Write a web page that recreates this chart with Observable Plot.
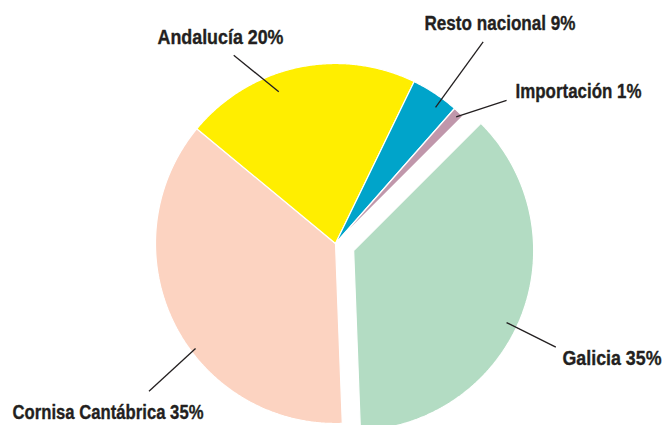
<!DOCTYPE html>
<html><head><meta charset="utf-8">
<script src="https://cdn.jsdelivr.net/npm/d3@7"></script>
<script src="https://cdn.jsdelivr.net/npm/@observablehq/plot@0.6"></script>
<style>body{margin:0;background:#fff}</style>
</head><body><div id="chart"></div>
<script>
// Data
const categories = ["Galicia", "Cornisa Cantábrica", "Andalucía", "Resto nacional", "Importación"];
const values = [36.9, 36.6, 21.2, 4.3, 1.0];
const labels = ["Galicia 35%", "Cornisa Cantábrica 35%", "Andalucía 20%", "Resto nacional 9%", "Importación 1%"];

// Styling / layout
const colors = ["#b3dcc3", "#fcd3c1", "#ffee00", "#00a4ca", "#c097ab"];
const explode = [19.5, 0, 0, 0, 0];
const leaders = [[115.2, 169, 115.5, 224], [233.1, 175, 231.6, 238], [339.5, 162, 331.6, 214], [36.3, 169, 36.2, 250], [43.6, 175, 50.1, 223]];
const labelOffsets = [[227, 121], [-323, 175], [-178, -200], [89, -214], [180, -146]];
const labelWidths = [99, 191, 126, 151, 126];

const R = 180;
const deg = Math.PI / 180;
const arcs = d3.pie().sort(null).startAngle(45 * deg).endAngle(45 * deg + 2 * Math.PI)(values);
const pt = (a, r, c) => ({x: c.x + r * Math.sin(a), y: c.y - r * Math.cos(a)});

const centers = arcs.map((a, i) => {
  const m = (a.startAngle + a.endAngle) / 2;
  return pt(m, explode[i], {x: 0, y: 0});
});

const sliceMarks = arcs.map((a, i) => {
  const c = centers[i];
  const pts = [{...c}];
  const n = Math.max(2, Math.ceil((a.endAngle - a.startAngle) / (0.4 * deg)));
  for (let k = 0; k <= n; k++) {
    pts.push(pt(a.startAngle + (a.endAngle - a.startAngle) * k / n, R, c));
  }
  pts.push({...c});
  return Plot.line(pts, {x: "x", y: "y", fill: colors[i], stroke: "white", strokeWidth: 1.2, strokeLinejoin: "miter"});
});

const leaderRows = leaders.map((l, i) => {
  const p1 = pt(l[0] * deg, l[1], centers[i]);
  const p2 = pt(l[2] * deg, l[3], centers[i]);
  return {x1: p1.x, y1: p1.y, x2: p2.x, y2: p2.y};
});

const labelRows = labels.map((t, i) => ({text: t, x: labelOffsets[i][0], y: labelOffsets[i][1]}));

const chart = Plot.plot({
  width: 665,
  height: 425,
  margin: 0,
  x: {domain: [-335, 330], range: [0, 665], axis: null},
  y: {domain: [-243, 182], range: [0, 425], axis: null},
  style: {background: "white"},
  marks: [
    ...sliceMarks,
    Plot.link(leaderRows, {x1: "x1", y1: "y1", x2: "x2", y2: "y2", stroke: "#231f20", strokeWidth: 1.3}),
    Plot.text(labelRows, {
      x: "x", y: "y", text: "text",
      textAnchor: "start", lineAnchor: "bottom",
      fontSize: 20.5, fontWeight: "bold",
      fontFamily: "'Liberation Sans', Arial, sans-serif",
      fill: "#231f20", stroke: "#231f20", strokeWidth: 0.35,
      className: "pie-labels"
    })
  ]
});
document.getElementById("chart").appendChild(chart);
// condense the labels to the reference's narrow typeface widths
chart.querySelectorAll(".pie-labels text").forEach((t, i) => {
  t.setAttribute("textLength", labelWidths[i]);
  t.setAttribute("lengthAdjust", "spacingAndGlyphs");
});
</script>
</body></html>
